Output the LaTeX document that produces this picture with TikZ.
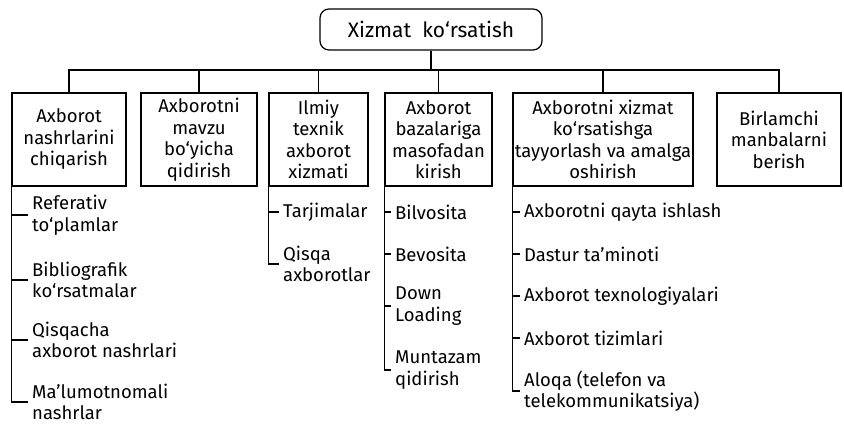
\documentclass[tikz,border=0pt]{standalone}
\usepackage{fontspec}
\setmainfont{Fira Sans}
\usetikzlibrary{positioning}

\begin{document}
\begin{tikzpicture}[x=1pt, y=-1pt,
        box/.style={draw, line width=1.2pt, minimum width=#1, minimum height=93pt, inner sep=0pt, align=center, font=\fontsize{18.5}{21.5}\selectfont},
        item/.style={anchor=west, align=left, inner xsep=4pt, inner ysep=1pt, font=\fontsize{18.5}{21.5}\selectfont},
        link/.style={line width=1.2pt}
    ]
      \useasboundingbox (0,0) rectangle (844,424);

      % Top
      \node[draw, line width=1.2pt, rounded corners=9pt, minimum width=222pt, minimum height=41pt, font=\fontsize{21}{24}\selectfont] (top) at (431,29.5) {Xizmat\ \ ko‘rsatish};
      \coordinate (bus) at (0,70);

      % Services
      \node[box=114pt] (b1) at (69,139.5) {Axborot\\nashrlarini\\chiqarish};
      \node[box=116pt] (b2) at (199,139.5) {Axborotni\\mavzu\\bo‘yicha\\qidirish};
      \node[box=99pt] (b3) at (318.5,139.5) {Ilmiy\\texnik\\axborot\\xizmati};
      \node[box=107pt] (b4) at (438.5,139.5) {Axborot\\bazalariga\\masofadan\\kirish};
      \node[box=180pt] (b5) at (603,139.5) {Axborotni xizmat\\ko‘rsatishga\\tayyorlash va amalga\\oshirish};
      \node[box=124pt] (b6) at (779,139.5) {Birlamchi\\manbalarni\\berish};

      \draw[link] (top.south) -- (top.south |- bus);
      \draw[link] (b1.north) -- (b1.north |- bus) -- (b6.north |- bus) -- (b6.north);
      \foreach \b in {b2,b3,b4,b5}
        \draw[link] (\b.north) -- (\b.north |- bus);

      % Publications
      \node[item] (r1) at (28,215) {Referativ\\to‘plamlar};
      \node[item] (r2) at (28,280) {Bibliografik\\ko‘rsatmalar};
      \node[item] (r3) at (28,340) {Qisqacha\\axborot nashrlari};
      \node[item] (r4) at (28,402) {Ma’lumotnomali\\nashrlar};
      \draw[link] (b1.south west) |- (r4.west);
      \foreach \r in {r1,r2,r3}
        \draw[link] (b1.south west |- \r.west) -- (\r.west);

      % Scientific service
      \node[item] (t1) at (279,212) {Tarjimalar};
      \node[item] (t2) at (279,264) {Qisqa\\axborotlar};
      \draw[link] (b3.south west) |- (t2.west);
      \draw[link] (b3.south west |- t1.west) -- (t1.west);

      % Remote access
      \node[item] (d1) at (391,212) {Bilvosita};
      \node[item] (d2) at (391,254) {Bevosita};
      \node[item] (d3) at (391,306) {Down\\Loading};
      \node[item] (d4) at (391,370) {Muntazam\\qidirish};
      \draw[link] (b4.south west) |- (d4.west);
      \foreach \d in {d1,d2,d3}
        \draw[link] (b4.south west |- \d.west) -- (\d.west);

      % Preparation
      \node[item] (s1) at (520,212) {Axborotni qayta ishlash};
      \node[item] (s2) at (520,254) {Dastur ta’minoti};
      \node[item] (s3) at (520,296) {Axborot texnologiyalari};
      \node[item] (s4) at (520,338) {Axborot tizimlari};
      \node[item] (s5) at (520,391) {Aloqa (telefon va\\telekommunikatsiya)};
      \draw[link] (b5.south west) |- (s5.west);
      \foreach \s in {s1,s2,s3,s4}
        \draw[link] (b5.south west |- \s.west) -- (\s.west);
    \end{tikzpicture}
\end{document}
